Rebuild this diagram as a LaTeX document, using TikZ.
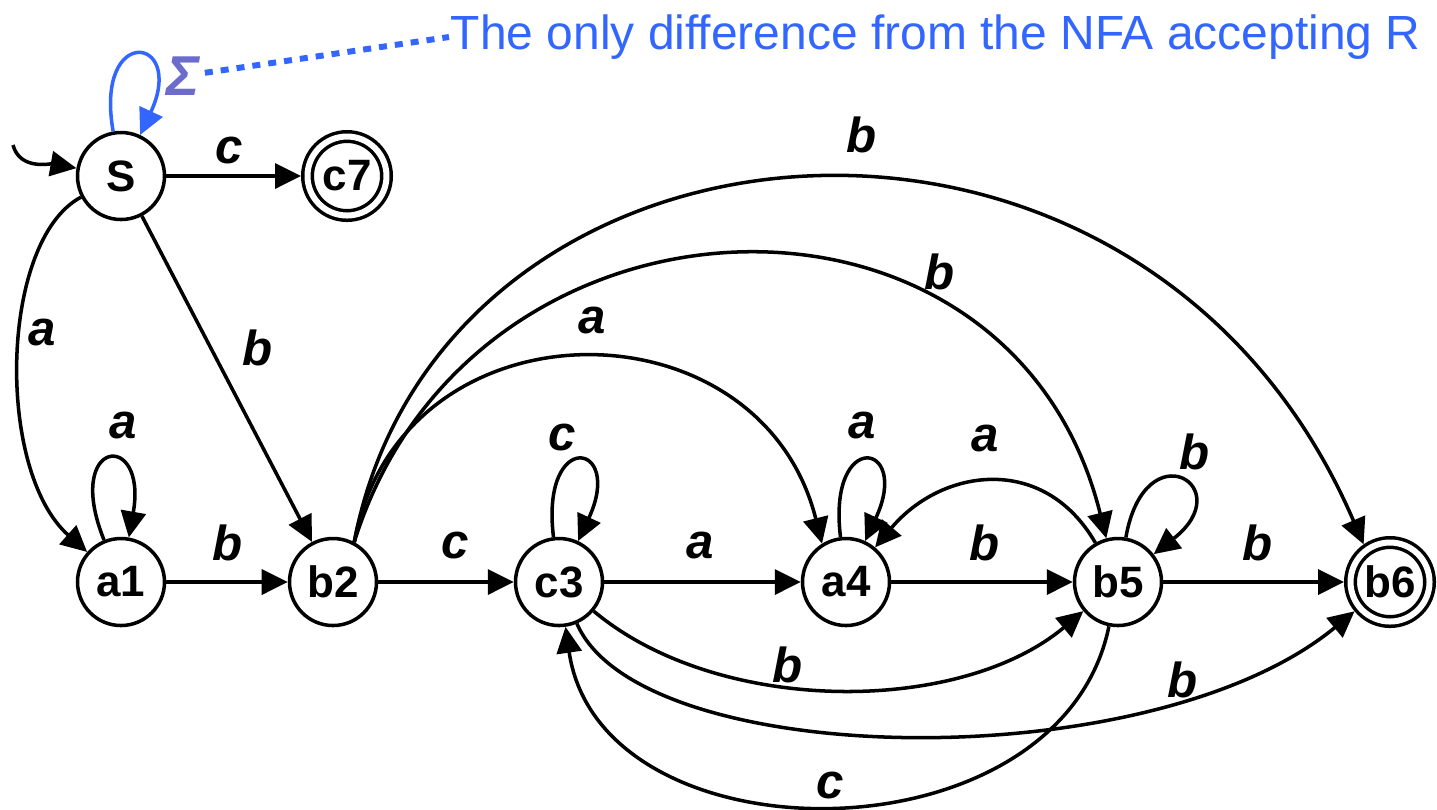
\documentclass[tikz,border=0pt]{standalone}
\usepackage{fontspec}
\setmainfont{Liberation Sans}
\usetikzlibrary{arrows.meta}

\definecolor{azul}{RGB}{51,102,255}
\definecolor{lila}{RGB}{108,108,204}

\tikzset{
  estado/.style={circle,draw,minimum size=8.7mm,inner sep=0pt,
    font=\fontsize{12.5}{14}\selectfont\bfseries},
  final/.style={estado,double,double distance=0.6mm,minimum size=7.9mm,outer sep=0.65mm},
  etiq/.style={inner sep=0pt,font=\fontsize{14}{16}\selectfont\bfseries\itshape},
  lazo/.style={looseness=8,min distance=11mm},
}

\begin{document}
\begin{tikzpicture}[x=0.1mm,y=0.1mm,line width=1pt,>={Triangle[length=2.6mm,width=2.5mm]}]
  \useasboundingbox (0,0) rectangle (1437,-809);
  % estados
  \node[estado] (S)  at (121,-176) {S};
  \node[final]  (c7) at (347,-176) {c7};
  \node[estado] (a1) at (121,-582) {a1};
  \node[estado] (b2) at (333,-582) {b2};
  \node[estado] (c3) at (559,-582) {c3};
  \node[estado] (a4) at (846,-582) {a4};
  \node[estado] (b5) at (1118,-582) {b5};
  \node[final]  (b6) at (1390,-582) {b6};
  \coordinate (ini) at (13,-145);
  % transiciones rectas
  \draw[->] (ini) to[out=-75,in=170] (S);
  \draw[->] (S) -- (c7);
  \draw[->] (S) -- (b2);
  \foreach \p/\q in {a1/b2,b2/c3,c3/a4,a4/b5,b5/b6} \draw[->] (\p) -- (\q);
  % lazos
  \foreach \n/\o/\e in {a1/112/80,c3/97/65,a4/97/65} \draw[->] (\n) to[out=\o,in=\e,lazo] (\n);
  \draw[->] (b5) to[out=80,in=38,lazo] (b5);
  % arcos
  \draw[->] (S) .. controls (0,-240) and (-5,-470) .. (a1);
  \draw[->] (b2.62) .. controls (400,-296) and (760,-296) .. (a4.122);
  \draw[->] (b2.62) .. controls (470,-170) and (1010,-150) .. (b5.105);
  \draw[->] (b2.62) .. controls (440,-90) and (1140,-25) .. (b6.125);
  \draw[->] (b5) to[out=120,in=50,looseness=1.2] (a4);
  \draw[->] (c3) to[out=-40,in=-140,looseness=0.85] (b5);
  \draw[->] (c3) .. controls (640,-770) and (1150,-780) .. (b6);
  \draw[->] (b5) .. controls (1060,-865) and (600,-865) .. (c3);
  % etiquetas
  \foreach \x/\y/\t [count=\i] in {229/150/c,42/332/a,258/348/b,123/425/a,228/543/b,
      455/545/c,562/437/c,700/545/a,862/425/a,985/543/b,985/438/a,1195/452/b,
      1258/543/b,592/320/a,940/272/b,862/135/b,788/665/b,1183/680/b,830/785/c}
    \node[etiq] (e\i) at (\x,-\y) {\t};
  % nota: Sigma-lazo en S
  \draw[->,azul] (S) to[out=100,in=65,lazo] (S);
  \node[lila,font=\fontsize{16}{18}\selectfont\bfseries\itshape,inner sep=1pt] (sigma) at (183,-76) {Σ};
  \node[azul,anchor=west,inner sep=0pt,font=\fontsize{13.65}{16}\selectfont] (note) at (449,-37)
    {The only difference from the NFA accepting R};
  \draw[azul,line width=1.7pt,dash pattern=on 0.8mm off 0.8mm] (sigma) -- (note.west);
\end{tikzpicture}
\end{document}
